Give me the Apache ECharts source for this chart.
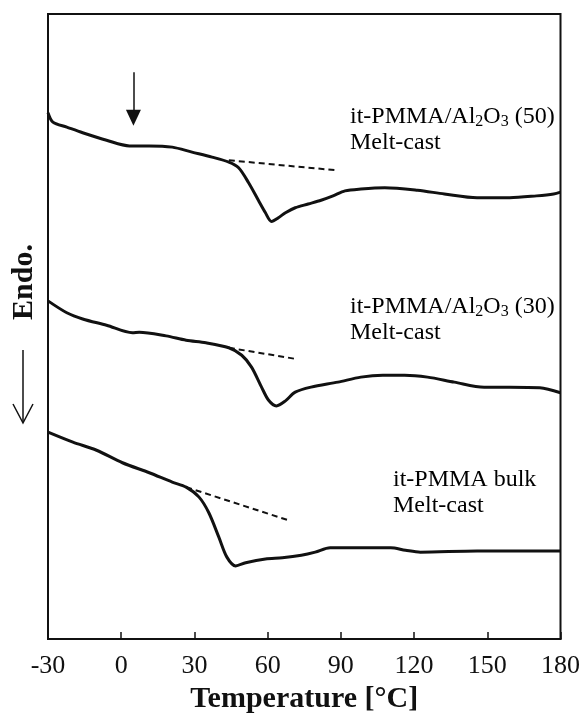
<!DOCTYPE html>
<html>
<head>
<meta charset="utf-8">
<script src="https://cdn.jsdelivr.net/npm/echarts@6/dist/echarts.min.js"></script>
<style>
html,body{margin:0;padding:0;background:#fff;}
#chart{width:583px;height:720px;}
</style>
</head>
<body>
<div id="chart"></div>
<script>
// ---- Data (temperature in °C, heat flow in arbitrary units, endo down) ----
var xTicks = [-30, 0, 30, 60, 90, 120, 150, 180];

var temp50 = [-30, -28.0, -22.3, -15.8, -6.0, 3.4, 11.5, 20.9, 29.0, 37.2, 44.1, 48.1, 52.2, 56.2, 59.1, 61.6, 64.4, 67.3, 71.3, 76.6, 81.9, 86.8, 91.7, 98.2, 108.0, 121.4, 132.4, 145.8, 159.2, 170.2, 177.2, 180];
var heat50 = [84.2, 82.7, 81.9, 81.0, 79.8, 78.9, 78.9, 78.7, 77.9, 77.1, 76.3, 75.4, 73.0, 70.2, 68.2, 66.8, 67.4, 68.2, 69.0, 69.6, 70.2, 70.9, 71.7, 72.0, 72.2, 71.8, 71.2, 70.6, 70.6, 70.9, 71.2, 71.5];

var temp30 = [-30, -22.3, -15.8, -6.0, 4.6, 7.4, 18.4, 26.6, 34.7, 44.1, 49.4, 53.4, 57.5, 60.4, 63.6, 67.3, 71.3, 77.8, 88.8, 98.2, 107.2, 116.1, 125.5, 136.5, 148.7, 159.2, 171.5, 180];
var heat30 = [54.1, 52.2, 51.2, 50.2, 49.0, 49.1, 48.5, 47.8, 47.4, 46.6, 45.4, 43.5, 40.3, 38.2, 37.3, 38.1, 39.5, 40.3, 41.1, 41.9, 42.2, 42.2, 41.9, 41.1, 40.3, 40.3, 40.2, 39.4];

var tempBulk = [-30, -19.8, -10.1, 0.5, 11.5, 20.9, 26.6, 31.9, 35.9, 40.0, 43.3, 46.9, 51.0, 59.1, 66.0, 73.8, 79.5, 85.6, 110.4, 116.5, 122.6, 145.8, 180];
var heatBulk = [33.1, 31.5, 30.2, 28.2, 26.6, 25.1, 24.3, 22.7, 20.2, 16.3, 13.1, 11.7, 12.2, 12.8, 13.0, 13.4, 13.9, 14.6, 14.6, 14.2, 13.9, 14.1, 14.1];

// baseline extrapolation (dashed) lines
var base50T = [44.1, 88.0];
var base50H = [76.6, 75.0];
var base30T = [44.1, 71.7];
var base30H = [46.6, 44.8];
var baseBulkT = [26.6, 68.5];
var baseBulkH = [24.3, 19.0];

// marker arrow on top trace
var arrowT = 5.0;
var arrowH = [90.7, 83.4];

var sampleLabels = [
  ['it-PMMA/Al', '2', 'O', '3', ' (50)'],
  ['it-PMMA/Al', '2', 'O', '3', ' (30)'],
  ['it-PMMA bulk']
];
var sampleSub = 'Melt-cast';
var xName = 'Temperature [°C]';
var yName = 'Endo.';

function pairs(xs, ys) { return xs.map(function (x, i) { return [x, ys[i]]; }); }

var serif = '"Liberation Serif", "Times New Roman", serif';
var ink = '#111';

var chart = echarts.init(document.getElementById('chart'));

function richLabel(parts) {
  if (parts.length === 1) return '{n|' + parts[0] + '}\n{n|' + sampleSub + '}';
  return '{n|' + parts[0] + '}{s|' + parts[1] + '}{n|' + parts[2] + '}{s|' + parts[3] + '}{n|' + parts[4] + '}\n{n|' + sampleSub + '}';
}
var rich = {
  n: { fontFamily: serif, fontSize: 24, lineHeight: 26, color: '#222' },
  s: { fontFamily: serif, fontSize: 16, lineHeight: 16, padding: [10, 0, 0, 0], color: '#222' }
};

var curveStyle = { color: ink, width: 3 };
var dashStyle = { color: ink, width: 2, type: [6, 4] };

var option = {
  animation: false,
  backgroundColor: '#fff',
  grid: { left: 48, right: 17, top: 14, bottom: 81, show: true, borderColor: ink, borderWidth: 2, backgroundColor: 'transparent' },
  xAxis: {
    type: 'value', min: xTicks[0], max: xTicks[xTicks.length - 1], interval: 30,
    axisLine: { show: true, onZero: false, lineStyle: { color: ink, width: 2 } },
    axisTick: { show: true, inside: true, length: 7, lineStyle: { color: ink, width: 1.5 } },
    splitLine: { show: false },
    axisLabel: { fontFamily: serif, fontSize: 26, color: ink, margin: 14 },
    name: xName, nameLocation: 'middle', nameGap: 44,
    nameTextStyle: { fontFamily: serif, fontSize: 30, fontWeight: 'bold', color: ink }
  },
  yAxis: {
    type: 'value', min: 0, max: 100,
    axisLine: { show: true, onZero: false, lineStyle: { color: ink, width: 2 } },
    axisTick: { show: false }, axisLabel: { show: false }, splitLine: { show: false }
  },
  series: [
    { type: 'line', data: pairs(temp50, heat50), showSymbol: false, smooth: 0.3, lineStyle: curveStyle,
      markLine: { silent: true, symbol: ['none', 'triangle'], symbolSize: [15, 16], label: { show: false },
        lineStyle: { color: ink, width: 1.5, type: 'solid' },
        data: [[{ coord: [arrowT, arrowH[0]] }, { coord: [arrowT, arrowH[1]] }]] } },
    { type: 'line', data: pairs(temp30, heat30), showSymbol: false, smooth: 0.3, lineStyle: curveStyle },
    { type: 'line', data: pairs(tempBulk, heatBulk), showSymbol: false, smooth: 0.3, lineStyle: curveStyle },
    { type: 'line', data: pairs(base50T, base50H), showSymbol: false, lineStyle: dashStyle },
    { type: 'line', data: pairs(base30T, base30H), showSymbol: false, lineStyle: dashStyle },
    { type: 'line', data: pairs(baseBulkT, baseBulkH), showSymbol: false, lineStyle: dashStyle }
  ],
  graphic: [
    { type: 'text', left: 350, top: 104, style: { text: richLabel(sampleLabels[0]), rich: rich } },
    { type: 'text', left: 350, top: 294, style: { text: richLabel(sampleLabels[1]), rich: rich } },
    { type: 'text', left: 393, top: 468, style: { text: richLabel(sampleLabels[2]), rich: rich } },
    { type: 'text', x: 24, y: 282, rotation: Math.PI / 2,
      style: { text: yName, font: 'bold 30px ' + serif, fill: ink, align: 'center', verticalAlign: 'middle' } },
    { type: 'line', shape: { x1: 23, y1: 350, x2: 23, y2: 422 }, style: { stroke: ink, lineWidth: 1.5 } },
    { type: 'polyline', shape: { points: [[13, 404], [23, 423], [33, 404]] }, style: { stroke: ink, lineWidth: 1.5, fill: null } }
  ]
};
chart.setOption(option);
</script>
</body>
</html>
